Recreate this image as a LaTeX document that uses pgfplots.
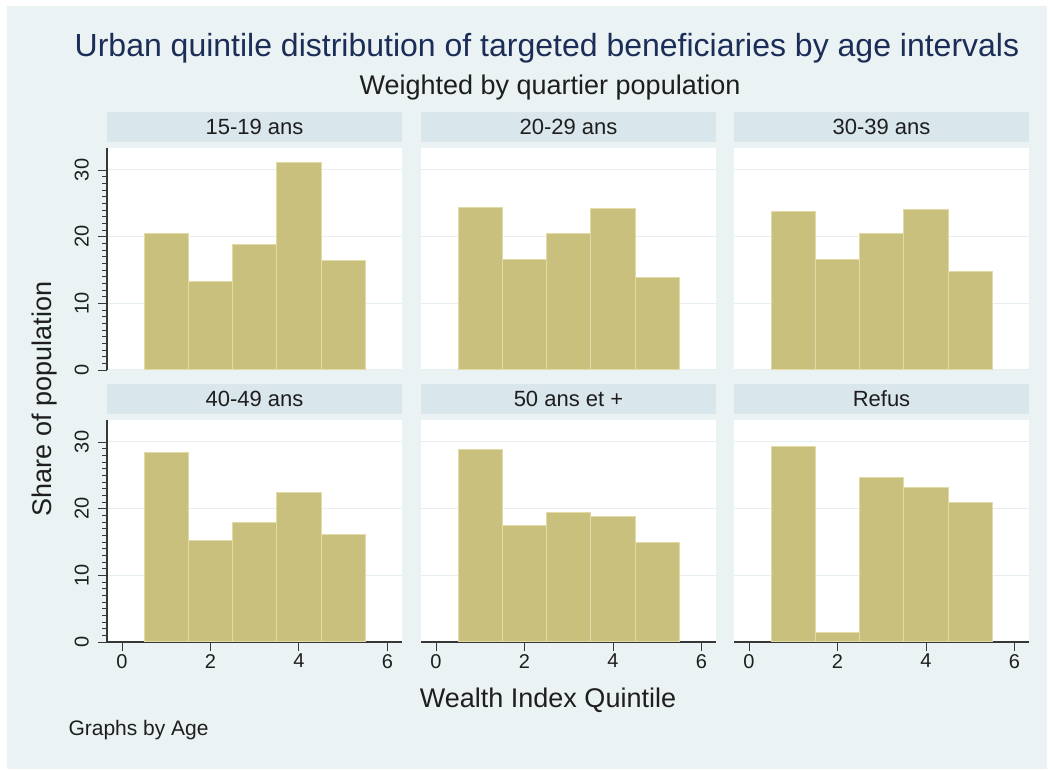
\documentclass[border=0pt]{standalone}
\usepackage{pgfplots}
\pgfplotsset{compat=1.18}
\usepackage{fontspec}
\setmainfont{Liberation Sans}
\definecolor{bgc}{RGB}{234,242,243}
\definecolor{stripc}{RGB}{217,230,235}
\definecolor{gridc}{RGB}{230,238,240}
\definecolor{barc}{RGB}{201,192,125}
\definecolor{bare}{RGB}{226,219,165}
\definecolor{titlec}{RGB}{28,45,88}
\definecolor{textc}{RGB}{30,30,30}
\definecolor{axc}{RGB}{55,55,55}
\pgfplotsset{
  panel/.style={
    scale only axis, width=295pt, height=222pt,
    anchor=south west,
    xmin=-0.34, xmax=6.33, ymin=0, ymax=33.3,
    axis background/.style={fill=white},
    ytick={0,10,20,30},
    ymajorgrids, y grid style={draw=gridc, line width=1pt},
    tick align=outside,
    axis x line*=bottom, axis y line*=left,
    axis line style={draw=axc, line width=1.1pt},
    major tick length=9pt, minor tick length=5pt,
    every tick/.style={draw=axc, line width=0.9pt},
    /pgf/number format/assume math mode=true,
    tick label style={font=\fontsize{20}{24}\selectfont, text=textc},
    yticklabel style={rotate=90, anchor=south, inner sep=0pt, yshift=9pt},
    xticklabel style={anchor=north, inner sep=0pt, yshift=-3pt},
    title style={at={(0.5,1)}, anchor=south, fill=stripc, minimum width=295pt,
      minimum height=30pt, inner sep=0pt, yshift=0pt,
      font=\fontsize{22}{26}\selectfont, text=textc},
  },
  firstcol/.style={minor y tick num=9},
  othercol/.style={yticklabels={}, ytick style={draw=none}, y axis line style={draw=none}, minor y tick num=0},
  toprow/.style={xtick=\empty, x axis line style={draw=none}},
  bottomrow/.style={xtick={0,2,4,6}},
  hbar/.style={ybar, bar width=1, bar shift=0, fill=barc, draw=bare, line width=1pt},
}
\begin{document}
\begin{tikzpicture}
\fill[white] (0pt,0pt) rectangle (1053pt,769pt);
\fill[bgc] (7pt,0pt) rectangle (1047pt,763pt);
% top row
\begin{axis}[panel, firstcol, toprow, at={(107pt,399pt)}, title={15-19 ans}]
\addplot[hbar] coordinates {(1,20.5) (2,13.25) (3,18.75) (4,31.1) (5,16.35)};
\end{axis}
\begin{axis}[panel, othercol, toprow, at={(421pt,399pt)}, title={20-29 ans}]
\addplot[hbar] coordinates {(1,24.4) (2,16.5) (3,20.5) (4,24.2) (5,13.9)};
\end{axis}
\begin{axis}[panel, othercol, toprow, at={(734pt,399pt)}, title={30-39 ans}]
\addplot[hbar] coordinates {(1,23.75) (2,16.5) (3,20.5) (4,24.1) (5,14.75)};
\end{axis}
% bottom row
\begin{axis}[panel, firstcol, bottomrow, at={(107pt,127pt)}, title={40-49 ans}]
\addplot[hbar] coordinates {(1,28.4) (2,15.2) (3,17.9) (4,22.35) (5,16.15)};
\end{axis}
\begin{axis}[panel, othercol, bottomrow, at={(421pt,127pt)}, title={50 ans et +}]
\addplot[hbar] coordinates {(1,28.85) (2,17.5) (3,19.35) (4,18.75) (5,14.9)};
\end{axis}
\begin{axis}[panel, othercol, bottomrow, at={(734pt,127pt)}, title={Refus}]
\addplot[hbar] coordinates {(1,29.25) (2,1.45) (3,24.7) (4,23.1) (5,20.95)};
\end{axis}
\node[font=\fontsize{32}{38}\selectfont, text=titlec] at (547pt,721pt) {Urban quintile distribution of targeted beneficiaries by age intervals};
\node[font=\fontsize{27}{32}\selectfont, text=textc] at (550pt,681pt) {Weighted by quartier population};
\node[rotate=90, font=\fontsize{27}{32}\selectfont, text=textc] at (45pt,370pt) {Share of population};
\node[font=\fontsize{27}{32}\selectfont, text=textc] at (548pt,69pt) {Wealth Index Quintile};
\node[anchor=west, font=\fontsize{21}{25}\selectfont, text=textc] at (65pt,39pt) {Graphs by Age};
\useasboundingbox (0pt,0pt) rectangle (1053pt,769pt);
\end{tikzpicture}
\end{document}
